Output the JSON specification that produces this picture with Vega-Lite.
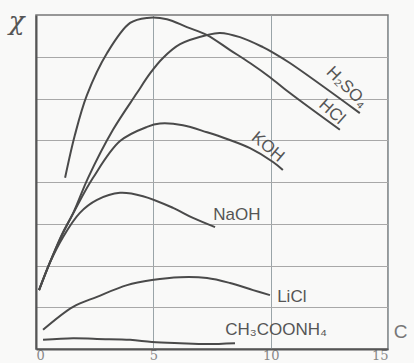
{
  "$schema": "https://vega.github.io/schema/vega-lite/v6.json",
  "width": 352,
  "height": 334,
  "autosize": {"type": "none"},
  "padding": {"left": 36, "top": 15, "right": 26, "bottom": 14},
  "background": "#f9f9f8",
  "config": {
    "view": {"stroke": "#777777", "strokeWidth": 1.5},
    "font": "Liberation Sans"
  },
  "datasets": {
    "curves": [
      {"series": "HCl", "c": 1.24, "k": 4.10},
      {"series": "HCl", "c": 1.66, "k": 5.13},
      {"series": "HCl", "c": 2.17, "k": 6.08},
      {"series": "HCl", "c": 3.03, "k": 7.09},
      {"series": "HCl", "c": 4.01, "k": 7.81},
      {"series": "HCl", "c": 4.73, "k": 7.93},
      {"series": "HCl", "c": 5.58, "k": 7.90},
      {"series": "HCl", "c": 6.43, "k": 7.71},
      {"series": "HCl", "c": 7.29, "k": 7.52},
      {"series": "HCl", "c": 8.27, "k": 7.16},
      {"series": "HCl", "c": 9.12, "k": 6.85},
      {"series": "HCl", "c": 9.97, "k": 6.51},
      {"series": "HCl", "c": 10.82, "k": 6.13},
      {"series": "HCl", "c": 12.95, "k": 5.25},
      {"series": "H2SO4", "c": 0.13, "k": 1.41},
      {"series": "H2SO4", "c": 0.60, "k": 2.08},
      {"series": "H2SO4", "c": 1.11, "k": 2.75},
      {"series": "H2SO4", "c": 1.58, "k": 3.25},
      {"series": "H2SO4", "c": 2.22, "k": 4.10},
      {"series": "H2SO4", "c": 3.28, "k": 5.25},
      {"series": "H2SO4", "c": 4.30, "k": 6.13},
      {"series": "H2SO4", "c": 4.86, "k": 6.60},
      {"series": "H2SO4", "c": 5.41, "k": 6.97},
      {"series": "H2SO4", "c": 6.14, "k": 7.30},
      {"series": "H2SO4", "c": 7.29, "k": 7.52},
      {"series": "H2SO4", "c": 7.84, "k": 7.57},
      {"series": "H2SO4", "c": 8.69, "k": 7.47},
      {"series": "H2SO4", "c": 9.67, "k": 7.23},
      {"series": "H2SO4", "c": 10.10, "k": 7.10},
      {"series": "H2SO4", "c": 10.82, "k": 6.85},
      {"series": "H2SO4", "c": 13.80, "k": 5.65},
      {"series": "KOH", "c": 0.13, "k": 1.41},
      {"series": "KOH", "c": 0.60, "k": 2.08},
      {"series": "KOH", "c": 1.11, "k": 2.73},
      {"series": "KOH", "c": 1.66, "k": 3.33},
      {"series": "KOH", "c": 2.43, "k": 4.10},
      {"series": "KOH", "c": 3.58, "k": 4.98},
      {"series": "KOH", "c": 4.73, "k": 5.32},
      {"series": "KOH", "c": 5.28, "k": 5.40},
      {"series": "KOH", "c": 6.26, "k": 5.36},
      {"series": "KOH", "c": 7.29, "k": 5.19},
      {"series": "KOH", "c": 8.14, "k": 5.03},
      {"series": "KOH", "c": 9.12, "k": 4.81},
      {"series": "KOH", "c": 10.10, "k": 4.48},
      {"series": "KOH", "c": 10.52, "k": 4.29},
      {"series": "NaOH", "c": 0.13, "k": 1.41},
      {"series": "NaOH", "c": 0.60, "k": 2.08},
      {"series": "NaOH", "c": 1.15, "k": 2.68},
      {"series": "NaOH", "c": 1.87, "k": 3.26},
      {"series": "NaOH", "c": 2.60, "k": 3.57},
      {"series": "NaOH", "c": 3.58, "k": 3.74},
      {"series": "NaOH", "c": 4.56, "k": 3.66},
      {"series": "NaOH", "c": 5.84, "k": 3.38},
      {"series": "NaOH", "c": 6.69, "k": 3.14},
      {"series": "NaOH", "c": 7.63, "k": 2.92},
      {"series": "LiCl", "c": 0.30, "k": 0.46},
      {"series": "LiCl", "c": 1.58, "k": 1.01},
      {"series": "LiCl", "c": 2.60, "k": 1.25},
      {"series": "LiCl", "c": 3.88, "k": 1.53},
      {"series": "LiCl", "c": 4.94, "k": 1.65},
      {"series": "LiCl", "c": 6.14, "k": 1.72},
      {"series": "LiCl", "c": 7.29, "k": 1.70},
      {"series": "LiCl", "c": 8.27, "k": 1.58},
      {"series": "LiCl", "c": 9.25, "k": 1.41},
      {"series": "LiCl", "c": 9.97, "k": 1.29},
      {"series": "CH3COONH4", "c": 0.30, "k": 0.22},
      {"series": "CH3COONH4", "c": 1.58, "k": 0.26},
      {"series": "CH3COONH4", "c": 2.60, "k": 0.24},
      {"series": "CH3COONH4", "c": 4.01, "k": 0.22},
      {"series": "CH3COONH4", "c": 4.94, "k": 0.17},
      {"series": "CH3COONH4", "c": 6.14, "k": 0.14},
      {"series": "CH3COONH4", "c": 7.29, "k": 0.12},
      {"series": "CH3COONH4", "c": 8.48, "k": 0.14}
    ],
    "labels": [
      {"name": "H₂SO₄", "c": 13.25, "k": 6.27, "kind": "a45"},
      {"name": "HCl", "c": 12.61, "k": 5.68, "kind": "a42"},
      {"name": "KOH", "c": 9.88, "k": 4.84, "kind": "a40"},
      {"name": "NaOH", "c": 8.56, "k": 3.21, "kind": "flat"},
      {"name": "LiCl", "c": 10.9, "k": 1.25, "kind": "flat"},
      {"name": "CH₃COONH₄", "c": 10.23, "k": 0.46, "kind": "flat"}
    ]
  },
  "encoding": {
    "x": {
      "field": "c", "type": "quantitative",
      "scale": {"domain": [0, 15], "nice": false, "zero": false},
      "axis": {
        "values": [0, 5, 10, 15],
        "title": "C",
        "titleX": 364, "titleY": -18,
        "titleAlign": "center", "titleBaseline": "middle",
        "titleFontSize": 19, "titleFontWeight": "normal", "titleColor": "#777777",
        "labelFontSize": 13, "labelColor": "#888888", "labelPadding": 0,
        "labelFont": "DejaVu Serif",
        "ticks": false,
        "domainColor": "#555555", "domainWidth": 2,
        "grid": true, "gridColor": "#9aa4a8", "gridWidth": 1
      }
    },
    "y": {
      "field": "k", "type": "quantitative",
      "scale": {"domain": [0, 8], "nice": false},
      "axis": {
        "values": [1, 2, 3, 4, 5, 6, 7],
        "labels": false, "ticks": false,
        "title": "χ",
        "titleAngle": 0, "titleX": -20, "titleY": 6,
        "titleAlign": "center", "titleBaseline": "middle",
        "titleFont": "DejaVu Serif", "titleFontStyle": "italic",
        "titleFontSize": 26, "titleFontWeight": "normal", "titleColor": "#555555",
        "domainColor": "#555555", "domainWidth": 2,
        "grid": true, "gridColor": "#a8a8a8", "gridWidth": 1
      }
    }
  },
  "layer": [
    {
      "data": {"name": "curves"},
      "mark": {"type": "line", "interpolate": "catmull-rom", "color": "#4a4a4a", "strokeWidth": 2},
      "encoding": {"detail": {"field": "series"}}
    },
    {
      "data": {"name": "labels"},
      "transform": [{"filter": "datum.kind === 'flat'"}],
      "mark": {"type": "text", "fontSize": 17, "color": "#555555", "align": "center", "baseline": "middle"},
      "encoding": {"text": {"field": "name"}}
    },
    {
      "data": {"name": "labels"},
      "transform": [{"filter": "datum.kind === 'a45'"}],
      "mark": {"type": "text", "fontSize": 17, "color": "#555555", "align": "center", "baseline": "middle", "angle": 45},
      "encoding": {"text": {"field": "name"}}
    },
    {
      "data": {"name": "labels"},
      "transform": [{"filter": "datum.kind === 'a42'"}],
      "mark": {"type": "text", "fontSize": 17, "color": "#555555", "align": "center", "baseline": "middle", "angle": 42},
      "encoding": {"text": {"field": "name"}}
    },
    {
      "data": {"name": "labels"},
      "transform": [{"filter": "datum.kind === 'a40'"}],
      "mark": {"type": "text", "fontSize": 17, "color": "#555555", "align": "center", "baseline": "middle", "angle": 40},
      "encoding": {"text": {"field": "name"}}
    }
  ]
}
